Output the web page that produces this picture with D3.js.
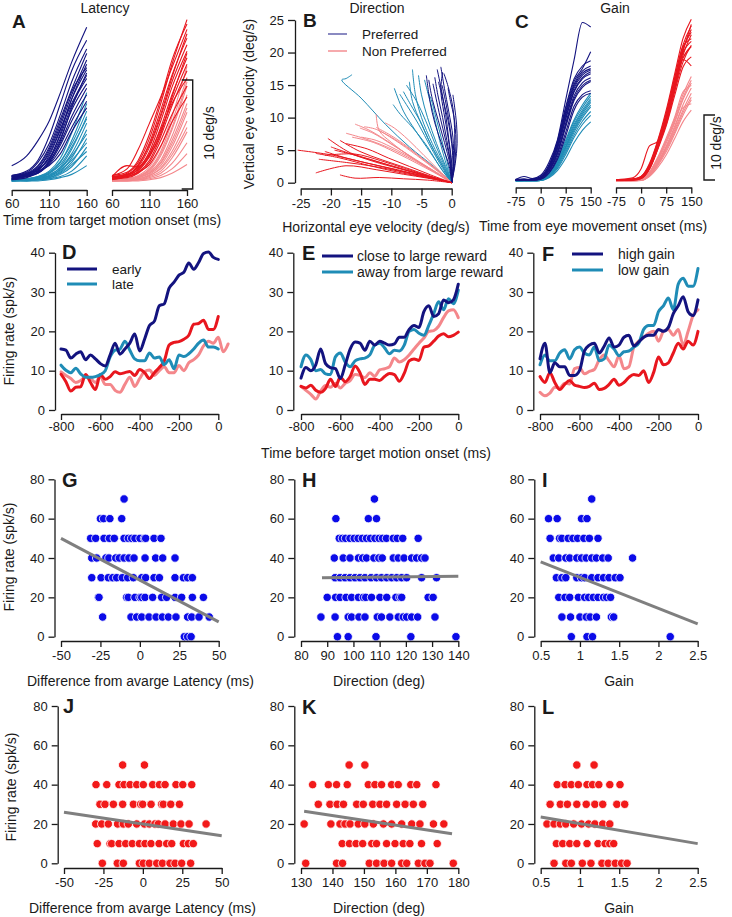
<!DOCTYPE html>
<html><head><meta charset="utf-8">
<script src="https://cdn.jsdelivr.net/npm/d3@7"></script>
<style>body{margin:0;background:#fff;}svg{display:block;}</style>
</head><body><script>
// ---------------- DATA ----------------
// Panel A: eye velocity traces (deg/s) vs time from target motion onset (ms)
const timesA = [60, 80, 95, 110, 125, 140, 160];
const latEarlyPref = [
 [1.5,2.4,3.8,5.6,8.2,11,14.2],[0.6,0.9,1.8,3.5,6.2,9.2,12.2],[0.5,0.8,1.5,3.2,5.8,8.5,11.8],
 [0.4,0.6,1.2,2.8,5.2,8,11.2],[0.5,0.7,1.4,3,5.5,8.3,10.5],[0.3,0.5,1.0,2.4,4.8,7.6,10.3],
 [0.6,0.8,1.3,2.6,4.9,7.2,9.8],[0.4,0.6,1.1,2.2,4.3,7,9.5],[0.3,0.7,1.2,2.1,4.0,6.6,9.0],
 [0.5,0.6,0.9,1.9,3.6,6.0,8.6],[0.2,0.5,0.8,1.7,3.4,5.6,8.0],[0.4,0.5,0.9,1.6,3.0,5.0,7.4],
 [0.5,0.7,1.0,1.5,2.6,4.6,6.8],[0.3,0.6,0.8,1.8,3.8,6.8,10.0],[0.6,1.0,2.0,4.2,7.2,10.2,13.0],
 [0.2,0.4,0.9,2.0,4.5,7.6,10.8]];
const latLatePref = [
 [0.2,0.3,0.5,1.0,2.2,4.5,8.2],[0.1,0.2,0.4,0.8,1.8,3.8,7.2],[0.3,0.3,0.5,0.9,1.9,3.5,6.5],
 [0.2,0.2,0.3,0.6,1.4,3.0,6.0],[0.1,0.2,0.4,0.7,1.3,2.6,5.4],[0.3,0.2,0.3,0.5,1.0,2.2,4.8],
 [0.2,0.1,0.2,0.4,0.9,1.8,4.0],[0.1,0.1,0.2,0.3,0.7,1.4,3.2],[0.2,0.2,0.2,0.3,0.5,1.0,2.4],
 [0.1,0.1,0.1,0.2,0.4,0.7,1.5],[0.2,0.3,0.4,0.8,1.6,3.2,5.8],[0.1,0.2,0.3,0.5,1.2,2.4,4.4],
 [0.3,0.2,0.4,0.6,1.1,2.0,3.6],[0.2,0.2,0.3,0.4,0.8,1.6,2.8]];
const latEarlyNon = [
 [0.4,0.8,1.8,4.0,7.2,10.8,14.9],[0.6,1.2,3.0,5.4,7.8,10.5,14.0],[0.3,0.6,1.5,3.6,6.6,9.8,13.2],
 [0.5,0.7,1.4,3.2,6.0,9.2,12.6],[0.4,0.6,1.2,2.8,5.6,8.7,12.0],[0.3,0.5,1.0,2.5,5.0,8.0,11.4],
 [0.4,0.6,1.1,2.3,4.6,7.5,10.8],[0.2,0.5,0.9,2.0,4.2,7.0,10.2],[0.5,0.7,1.3,2.6,4.8,7.2,9.5],
 [0.3,0.4,0.8,1.8,3.8,6.2,8.8],[0.4,0.5,0.9,1.6,3.3,5.5,7.8],[0.6,0.9,2.0,4.4,7.6,11.2,14.5],
 [0.3,0.6,1.6,3.4,6.2,9.6,13.6],[0.5,1.5,1.4,2.4,4.4,7.8,11.8]];
const latLateNon = [
 [0.2,0.3,0.6,1.4,3.2,6.0,10.6],[0.1,0.2,0.5,1.2,2.8,5.5,9.6],[0.3,0.3,0.5,1.0,2.4,4.8,8.8],
 [0.2,0.2,0.4,0.9,2.0,4.2,8.0],[0.1,0.2,0.4,0.8,1.8,3.8,7.2],[0.2,0.3,0.3,0.7,1.5,3.2,6.4],
 [0.3,0.2,0.3,0.6,1.3,2.8,5.6],[0.1,0.1,0.2,0.5,1.0,2.2,4.6],[0.2,0.2,0.2,0.4,0.8,1.7,3.6],
 [0.1,0.1,0.2,0.3,0.6,1.2,2.6],[0.1,0.1,0.1,0.2,0.4,0.8,1.6],[0.2,0.3,0.5,1.1,2.6,5.0,9.2],
 [0.2,0.2,0.4,0.8,1.7,3.5,6.8],[0.3,0.2,0.3,0.6,1.2,2.5,5.0]];
const ticksA = [60, 110, 160];

// Panel B: [horizontal, vertical] eye velocity trajectories (deg/s)
const dirClosePref = [
 [[0,0],[0.3,3],[0.2,7],[-0.5,11],[-1.2,14.5],[-1.8,17.8]],[[0,0],[-0.2,3],[-0.8,6.5],[-1.5,10],[-2.3,13.5],[-2.8,16.2]],
 [[0,0],[0.2,2.5],[0,6],[-0.6,9.5],[-1.5,13],[-2.2,15.5]],[[0,0],[-0.3,2.8],[-1.2,6.2],[-2.2,9.5],[-3.2,12.8],[-3.8,15.8]],
 [[0,0],[0.5,3],[0.7,6.5],[0.4,10],[-0.2,12.5],[-0.6,14.5]],[[0,0],[-0.1,3.2],[-0.6,7],[-1.3,10.8],[-1.8,14.2],[-1.5,17]],
 [[0,0],[0.3,2.6],[0.1,5.8],[-0.4,9.2],[-1.0,12.4],[-1.6,15]],[[0,0],[-0.4,2.5],[-1.6,5.8],[-2.8,9.2],[-3.6,12.5],[-4.2,16.5]],
 [[0,0],[0.4,3.5],[0.5,7.5],[0.2,11.5],[-0.6,14.8],[-1.3,16.8]],[[0,0],[0,3],[-0.5,6.8],[-1.0,10.5],[-1.6,13.8],[-2.4,17.4]],
 [[0,0],[0.6,3],[0.9,6],[0.8,9],[0.5,11.5],[0.2,13.5]],[[0,0],[-0.2,3],[-1.0,6.5],[-1.9,10],[-2.6,13],[-3.1,15.2]]];
const dirAwayPref = [
 [[0,0],[-1.2,2],[-3,5],[-5,9],[-6.5,12.5],[-7,15.5]],[[0,0],[-1.5,2.2],[-3.5,5.5],[-5.5,9],[-7.5,12],[-8.6,13.6]],
 [[0,0],[-1,2.5],[-2.5,6],[-4,10],[-5,13.5],[-5.5,16.5]],[[0,0],[-1.8,2.2],[-4,5.5],[-6.5,8.5],[-8.5,10.5],[-9.7,12]],
 [[0,0],[-0.8,2.5],[-2,6.5],[-3,10.5],[-4,14],[-4.5,15.8]],[[0,0],[-1.3,2.5],[-3.2,6],[-5,10],[-6,13.5],[-6.5,17.4]],
 [[0,0],[-1.6,2],[-3.8,5],[-6,8],[-8,11],[-9.5,14.5]],[[0,0],[-1,2.2],[-2.6,5.6],[-4.3,9.5],[-5.8,12.5],[-7.5,15]],
 [[0,0],[-0.6,2.6],[-1.6,6.4],[-2.6,10],[-3.4,12.8],[-4.0,14]],[[0,0],[-1.4,2.4],[-3.4,5.8],[-5.2,9.4],[-6.8,12],[-8,14]],
 [[0,0],[-3,2.5],[-7,5.5],[-11,9],[-15,13],[-18.2,15.8],[-17.5,16],[-16.5,16.6]]];
const dirAwayNon = [
 [[0,0],[-2.5,1.5],[-6,3.5],[-10,6],[-13.5,8],[-16,9]],[[0,0],[-2.8,1.6],[-6.5,3.8],[-10,6.2],[-12,8],[-12.5,10.5]],
 [[0,0],[-2.2,1.4],[-5.5,3.2],[-9,5],[-12.5,6.5],[-15,7]],[[0,0],[-2,1.6],[-5,3.8],[-8,6],[-10.5,7.5],[-12.5,8.5]],
 [[0,0],[-2.6,1.5],[-6.2,3.4],[-10.5,5.4],[-14.5,6.8],[-17.5,7.6]],[[0,0],[-1.8,1.5],[-4.5,3.5],[-7.5,5.5],[-10,7],[-12,8]],
 [[0,0],[-2.4,1.8],[-5.8,4.2],[-9.5,6.6],[-12.5,8.2],[-14.5,8.6]],[[0,0],[-2.2,1.2],[-5.4,2.8],[-9.2,4.6],[-13,6.2],[-16.5,7]],
 [[0,0],[-2,1.8],[-4.6,4.2],[-7.2,6.6],[-9.5,8.4],[-11,9.2]],[[0,0],[-2.6,1.6],[-6,3.6],[-9.8,5.8],[-13,7.6],[-15.2,8.4]]];
const dirCloseNon = [
 [[0,0],[-4,1],[-8,2],[-12,3],[-16,4.2],[-20,5.5]],[[0,0],[-4,0.9],[-8.5,1.8],[-13,2.8],[-17.5,3.8],[-21,4.8]],
 [[0,0],[-3.8,1.1],[-7.6,2.3],[-11.5,3.5],[-15.2,4.8],[-18.5,6.5]],[[0,0],[-4.2,0.8],[-8.8,1.6],[-13.5,2.6],[-18.5,3.8],[-22.5,4.5]],
 [[0,0],[-4,0.7],[-8,1.3],[-12.5,2],[-17.5,2.6],[-22.5,1.5]],[[0,0],[-4.5,1],[-9,2],[-14,3],[-19.5,4.2],[-25.5,5]],
 [[0,0],[-3.5,1.2],[-7,2.5],[-10.5,3.8],[-14,5.2],[-17.5,6]],[[0,0],[-4,0.4],[-8,0.6],[-12,0.8],[-16,0.7],[-18.5,1.2]],
 [[0,0],[-4,1],[-8.2,2.1],[-12.6,3.3],[-16.8,4.6],[-20.5,6.8]],[[0,0],[-3.6,0.9],[-7.4,1.9],[-11.4,3],[-15.4,4.1],[-19.4,5]],
 [[0,0],[-4.1,0.8],[-8.4,1.7],[-12.8,2.5],[-17.4,3.1],[-22,3.6]],[[0,0],[-3.9,1.05],[-7.8,2.2],[-11.8,3.4],[-16,4.4],[-21,4.2]]];
const ticksBx = [-25, -20, -15, -10, -5, 0];
const ticksBy = [0, 5, 10, 15, 20, 25];

// Panel C: eye velocity (deg/s) vs time from eye movement onset (ms)
const timesC = [-75, -50, -25, 0, 25, 50, 75, 100, 125, 150];
const gainHighPref = [
 [0.3,0.8,0.5,1.0,3.0,6.4,12.6,18.7,24.5,23.8],[0.2,0.3,0.4,0.8,2.6,6.2,11.5,15.8,17.8,18.6],
 [0.3,0.4,0.3,0.7,2.4,5.8,10.8,15.0,17.0,17.8],[0.2,0.3,0.3,0.6,2.2,5.4,10.2,14.4,16.4,17.2],
 [0.4,0.3,0.4,0.7,2.0,5.0,9.6,13.8,15.8,16.6],[0.2,0.2,0.3,0.5,1.8,4.6,9.0,13.2,15.2,16.0],
 [0.3,0.3,0.2,0.5,1.6,4.2,8.4,12.5,14.5,15.4],[0.2,0.2,0.3,0.6,2.1,5.2,9.8,14.0,16.0,16.9],
 [0.3,0.4,0.3,0.4,1.4,3.8,7.6,11.6,13.4,14.0],[0.2,0.3,0.3,0.5,1.7,4.4,8.7,12.8,14.8,15.6],
 [0.3,0.2,0.4,0.6,2.3,5.6,10.5,14.7,16.7,17.4],[0.2,0.3,0.2,0.4,1.3,3.4,7.0,11.0,13.0,13.6],
 [0.3,0.2,0.3,0.7,2.5,6.0,11.2,15.4,17.4,20.0]];
const gainLowPref = [
 [0.2,0.2,0.3,0.4,1.2,3.4,6.4,9.5,11.8,13.6],[0.1,0.2,0.2,0.3,1.0,3.0,5.8,8.8,11.0,12.8],
 [0.2,0.1,0.2,0.3,0.9,2.7,5.3,8.2,10.4,12.2],[0.1,0.2,0.2,0.2,0.8,2.4,4.8,7.6,9.8,11.5],
 [0.2,0.2,0.1,0.2,0.7,2.0,4.2,6.8,8.8,10.2],[0.1,0.1,0.2,0.3,1.1,3.2,6.1,9.2,11.4,13.2],
 [0.2,0.2,0.2,0.2,0.6,1.7,3.6,6.0,7.9,9.2],[0.1,0.1,0.1,0.2,0.9,2.6,5.1,7.9,10.1,11.8],
 [0.2,0.2,0.2,0.3,1.0,2.9,5.5,8.5,10.7,12.5],[0.1,0.2,0.1,0.2,0.8,2.2,4.5,7.2,9.3,10.8]];
const gainHighNon = [
 [0.2,0.3,0.4,0.8,2.8,6.4,11.0,16.5,22.0,25.0],[0.3,0.2,0.3,0.7,2.5,6.0,10.4,15.8,21.0,24.0],
 [0.2,0.3,0.4,0.6,2.2,5.6,9.8,15.0,20.2,23.4],[0.3,0.3,0.3,0.8,2.6,6.2,10.6,16.0,20.8,22.0],
 [0.2,0.2,0.3,0.5,2.0,5.2,9.0,14.2,19.4,22.6],[0.3,0.3,0.4,0.7,2.4,5.8,10.0,15.2,19.8,21.6],
 [0.2,0.3,0.3,0.6,2.3,5.5,9.5,14.5,19.0,20.8],[0.2,0.2,0.2,0.5,1.9,5.0,8.6,13.2,17.6,19.2],
 [0.3,0.4,0.6,2.0,5.5,6.2,8.8,13.8,18.4,21.0],[0.2,0.3,0.3,0.6,2.1,5.4,9.4,14.6,20.0,24.2],
 [0.3,0.2,0.4,0.7,2.5,5.9,10.2,15.4,20.5,23.0],[0.2,0.3,0.3,0.5,2.0,5.1,9.2,14.0,18.8,17.8]];
const gainLowNon = [
 [0.1,0.2,0.2,0.4,1.4,3.6,6.4,9.6,13.4,16.2],[0.2,0.1,0.2,0.3,1.2,3.2,5.9,9.0,12.6,15.2],
 [0.1,0.2,0.2,0.3,1.1,3.0,5.5,8.5,11.8,14.4],[0.2,0.2,0.1,0.3,1.0,2.8,5.1,7.9,11.0,13.6],
 [0.1,0.1,0.2,0.2,0.9,2.5,4.6,7.3,10.2,12.6],[0.2,0.2,0.2,0.3,1.3,3.4,6.2,9.3,12.9,15.6],
 [0.1,0.2,0.1,0.2,0.8,2.2,4.1,6.6,9.2,11.0],[0.2,0.1,0.2,0.3,1.0,2.9,5.3,8.2,11.4,12.0],
 [0.1,0.2,0.2,0.2,0.9,2.6,4.9,7.6,10.6,13.0],[0.2,0.2,0.2,0.4,1.5,3.8,6.7,9.9,13.8,14.8]];
const ticksC = [-75, 0, 75, 150];

// Panels D-F: firing rate (spk/s) vs time before target motion onset (ms)
const timesFR = [-800,-775,-750,-725,-700,-675,-650,-625,-600,-575,-550,-525,-500,-475,-450,-425,-400,
 -375,-350,-325,-300,-275,-250,-225,-200,-175,-150,-125,-100,-75,-50,-25,0,25,50];
const dEarly = [15.5,15.2,13.2,14.2,14.8,12.8,14,13,11.8,11.2,14,17,14.2,15.5,17,19.3,15,18,21.5,22.6,26.5,27,31,32.5,34.3,35,37.4,35.8,37.5,39.8,40.2,38.8,38.3];
const dLate = [11.4,10.1,9.5,10.6,9.2,8.3,8.3,8.5,9,10,13.5,15.2,15.5,17.5,15.2,13,12.5,12.5,14.5,13.2,13.5,11.5,12.8,10.5,14,13.6,14.3,15.5,17,17.8,16,16,15.5];
const dEarlyNon = [9.1,7.2,4.8,5.8,5.9,9,7,5.2,9,7.8,8.5,9.7,9.2,9.5,9.8,8.8,10.3,9.5,8,9.5,10.8,12.5,16.5,17.2,17.4,18,19,21.8,22,22.8,20.5,20.5,23.8];
const dLateNon = [9.7,8.8,8,7,7.5,8.5,8,7,8.5,6.5,6.5,5,4.5,6.5,8.3,6,8,9.8,10.2,8.8,10,11,9.5,9.5,11.3,10,12,12.8,14,16.3,17.5,17,18.5,14.8,16.8];
const eClose = [8.1,10.8,10,11.5,15.5,11.8,10.8,10.5,8,11.5,15.5,17.3,17,15.2,17.5,16.5,17.5,17,16.5,16.8,18.5,18.5,20.5,21.5,21,25,26.5,23.8,24.5,28,27.3,28,32];
const eAway = [11,14,12.8,10,10.3,9.2,9,13.5,14.5,12.2,11,12.5,13,13.2,14,16.5,17,15.8,14.3,15.2,15,16.5,20,20.5,19.5,19,21.5,24.5,27.5,25.5,28.3,27,30.5];
const eCloseNon = [6,5.6,6.3,5,4.5,5.5,7.8,6,8.3,7.2,8.5,11.2,9.5,6.5,7.8,7.8,7.5,8.5,9.3,9,7.3,9.3,12.5,13,12.6,16,16.3,17.5,18.8,19.4,18.6,19,19.8];
const eAwayNon = [6,5,4,2.8,4.8,6.2,5.8,6.8,5.6,6.8,7.5,9,8.8,8.2,9.5,8.6,10.2,10.5,11,13.2,12.2,12.8,14,15.5,17,18.3,20,20.2,21.3,23.5,25.2,25.5,23.5];
const fHigh = [13,17,9.5,12,11,11,8.8,8.8,10,15,16.5,17,14.5,16.2,18.3,16,16.5,18.5,19,16.3,17.3,18.5,19,19,20.5,20,21,24.5,26.5,28.8,25,24,28];
const fLow = [11.5,14,12.5,12.5,14.5,15.3,13,15.3,16,14.5,14,16,12.5,13,16.5,15.5,13.8,14.8,15,16,17,20.5,21.5,21.5,25,26.5,28.5,25.5,32,33.5,31.5,31.5,36];
const fHighNon = [8.5,7,9.5,7,5.2,6.5,7.5,6.3,6,5.7,6,6.8,5.2,5.5,6.5,7.8,6.3,7,8.3,9,8.8,10,7,9.5,13.5,11.5,12,14.5,17,15.5,17.5,16.5,20];
const fLowNon = [4.5,3.6,4.3,5.8,5.6,6.8,6.6,10.5,10.8,9.2,9.8,10.3,12.8,14,12.5,11,13.8,10.5,11,16,17.5,18.5,19.5,20,17.5,20,20.5,19,20.5,16.5,20,24,25.5];
const ticksFRx = [-800, -600, -400, -200, 0];
const ticksFRy = [0, 10, 20, 30, 40];

// Panels G-L: [firing rate, list of x values]
const latencyPref = [[70,[-10]],[60,[-25,-23,-19,-11.5]],
 [50,[-31.2,-28,-22.7,-19.3,-16.2,-10,-7.3,-5.2,-3.1,0.1,2.9,3.7,9,13.4]],
 [40,[-30.5,-27.4,-21.5,-19.6,-15.3,-13,-10,-6.9,-3.7,3.3,10,14.5,22.3]],
 [30,[-30.5,-24.6,-20,-17.2,-14.7,-11.1,-7.7,-4.1,1.2,3.7,9,12.4,22.3,27.6,30.3,33.3]],
 [20,[-26.3,-25.9,-8.4,-7.3,-3.1,0.1,1.2,3.3,8.1,13.8,17,22.3,26.5,33.3,40.3]],
 [10,[-23.6,-5.6,-2,1.2,5.8,10.3,14.3,18.1,22.9,30.3,32.9,37.5,44]],
 [0,[28.2,30.3,32.5]]];
const directionPref = [[70,[108]],[60,[93.3,105.7,108.8]],
 [50,[94.6,95.8,97,98.7,100.3,101.8,103.4,105,106.5,108.2,109.8,111.1,112.6,115.2,116.7,118.8,124.7]],
 [40,[92.7,96.1,98.7,101.9,103.5,105,107.8,109.7,111,115.2,117.1,119.3,122.2,124.1,126,127.3]],
 [30,[93,94.9,96.8,98.7,100.6,102.5,104.4,106.7,108.8,110.7,112.7,114.6,116.5,118.4,120.3,126,131.7]],
 [20,[90,93.2,94.9,97.2,99.3,101.9,103.8,104.7,106.9,110.1,112.7,116.2,117.7,118.4,128.5,130.4]],
 [10,[87.6,93,98,99.3,102.1,104.4,109.1,110.7,113.9,117.1,119,120.3,122.2,124.5,131.1]],
 [0,[93.9,98,108.6,121.9,139.1]]];
const gainPref = [[70,[1.15]],[60,[0.6,0.71,1.02,1.09]],
 [50,[0.62,0.74,0.77,0.85,0.91,0.97,1.05,1.12,1.23]],
 [40,[0.66,0.73,0.82,0.87,0.96,1.02,1.08,1.15,1.21,1.29,1.36,1.67]],
 [30,[0.70,0.77,0.82,0.96,1.02,1.06,1.15,1.23,1.30,1.37,1.45,1.51]],
 [20,[0.73,0.81,0.87,0.98,1.06,1.11,1.17,1.23,1.3,1.34,1.39]],
 [10,[0.77,0.88,1,1.08,1.13,1.21,1.40,1.43]],
 [0,[0.89,1.09,1.16,2.15]]];
const latencyNon = [[50,[-12.8,1]],
 [40,[-29.7,-22.9,-15.1,-11.9,-8.1,-3.9,0.3,6.2,10.5,14.1,21,25.3,31]],
 [30,[-27.2,-24,-18.7,-12.8,-6,-1.4,-0.1,5.2,11.9,13,17.7,23.2]],
 [20,[-29.9,-26.1,-21.9,-16,-12.4,-9.2,-3.9,1,4.1,7.7,9.8,14.1,19.3,24.2,29.3,40.1]],
 [10,[-28.9,-20.8,-19.8,-15.1,-10.9,-6.7,-2.2,1.4,5.2,10.3,15.1,18.3,25.7,28.9,32]],
 [0,[-25.7,-16.2,-12.4,-2.2,0.3,4.1,8.8,12.4,17.2,20.4,24.6,30.3]]];
const directionNon = [[50,[145.3,150.3]],
 [40,[133.7,138.7,141.3,144.7,151.4,153.5,155.6,158.8,160.9,164.9,166.8,172.9]],
 [30,[135.5,139.2,141.5,143.5,147.7,149.8,152.8,155.1,157.2,160.4,163.1,165.7,168.7]],
 [20,[131,139.5,142.4,144,145.6,148.2,150.3,153,156.2,158.8,162,165.2,167.8,172.1,175.4]],
 [10,[143.1,145.4,147.5,149.6,152.5,154,157.2,159.9,162.5,164.6,168.3,173.3]],
 [0,[131.5,141.3,143.2,151.7,154,156.4,158.8,162,163.6,167.3,169.4,171,178.4]]];
const gainNon = [[50,[0.96,1.18]],
 [40,[0.71,0.81,0.89,0.98,1.09,1.16,1.24,1.38,1.51]],
 [30,[0.62,0.75,0.84,0.96,1.08,1.19,1.29,1.47,1.57]],
 [20,[0.58,0.67,0.75,0.82,0.92,1.02,1.11,1.19,1.29,1.38]],
 [10,[0.70,0.78,0.87,0.96,1.09,1.23,1.32,1.38,1.43]],
 [0,[0.67,0.82,0.89,1.03,1.14,1.28,1.36,1.45,1.53,1.6]]];
// regression lines [[x0,y0],[x1,y1]]
const fitG = [[-50,50],[50,7.5]], fitH = [[88,30],[140,30.7]], fitI = [[0.5,38],[2.5,6.5]];
const fitJ = [[-50,26],[50,14]], fitK = [[131,26.5],[178,15]], fitL = [[0.5,23.5],[2.5,10]];
const ticksSy = [0, 20, 40, 60, 80];
const ticksLat = [-50, -25, 0, 25, 50];
const ticksDirP = [80, 90, 100, 110, 120, 130, 140];
const ticksDirN = [130, 140, 150, 160, 170, 180];
const ticksGain = [0.5, 1, 1.5, 2, 2.5];

// ---------------- DRAWING ----------------
const FONT = '"Liberation Sans", Arial, Helvetica, sans-serif';
const INK = "#1a1a1a";
const NAVY = "#13137f", TEAL = "#1f8cb6", RED = "#e8161e", PINK = "#f4878b";
const SBLUE = "#0b0be8", SRED = "#f21a1a", GRAY = "#7f7f7f";

const svg = d3.select("body").append("svg").attr("width", 732).attr("height", 917)
  .style("font-family", FONT);

function label(x, y, str, o = {}) {
  const t = svg.append("text").text(str)
    .attr("font-size", o.size || 14).attr("font-weight", o.weight || "normal")
    .attr("text-anchor", o.anchor || "start").attr("fill", INK);
  if (o.rotate) t.attr("transform", `translate(${x},${y}) rotate(-90)`);
  else t.attr("x", x).attr("y", y);
  return t;
}
function styleAxis(g) {
  g.attr("font-family", FONT).attr("font-size", 13).attr("color", INK);
  g.selectAll("path,line").attr("stroke-width", 1.3);
}
function axisB(scale, y, ticks, size = 6, pad = 3) {
  const g = svg.append("g").attr("transform", `translate(0,${y})`)
    .call(d3.axisBottom(scale).tickValues(ticks).tickSize(size).tickSizeOuter(0)
      .tickPadding(pad).tickFormat(d => String(d)));
  styleAxis(g);
}
function axisL(scale, x, ticks, size = 6, pad = 4) {
  const g = svg.append("g").attr("transform", `translate(${x},0)`)
    .call(d3.axisLeft(scale).tickValues(ticks).tickSize(size).tickSizeOuter(0)
      .tickPadding(pad).tickFormat(d => String(d)));
  styleAxis(g);
}
function traces(xs, ys, times, list, color, w) {
  const line = d3.line().x((d, i) => xs(times[i])).y(d => ys(d)).curve(d3.curveMonotoneX);
  list.forEach(v => svg.append("path").attr("d", line(v)).attr("fill", "none")
    .attr("stroke", color).attr("stroke-width", w).attr("stroke-linejoin", "round"));
}
function paths2d(xs, ys, list, color, w) {
  const line = d3.line().x(d => xs(d[0])).y(d => ys(d[1])).curve(d3.curveCatmullRom.alpha(0.5));
  list.forEach(v => svg.append("path").attr("d", line(v)).attr("fill", "none")
    .attr("stroke", color).attr("stroke-width", w));
}
function scaleBar(x, yBot, len, dir, txtX, txtY) {
  svg.append("path").attr("d", `M${x + dir * 11},${yBot - len}H${x}V${yBot}H${x + dir * 11}`)
    .attr("fill", "none").attr("stroke", INK).attr("stroke-width", 1.4);
  label(txtX, txtY, "10 deg/s", { size: 14, anchor: "middle", rotate: true });
}

// ---- Row 1 ----
label(105, 13, "Latency", { anchor: "middle" });
label(377, 13, "Direction", { anchor: "middle" });
label(615, 13, "Gain", { anchor: "middle" });
label(12, 28, "A", { size: 19, weight: "bold" });
label(303, 27, "B", { size: 19, weight: "bold" });
label(515, 27.5, "C", { size: 19, weight: "bold" });

// A
const xA1 = d3.scaleLinear().domain([60, 160]).range([11.7, 86.7]);
const xA2 = d3.scaleLinear().domain([60, 160]).range([112, 187]);
const yA = d3.scaleLinear().domain([0, 10]).range([182, 73]);
traces(xA1, yA, timesA, latLatePref, TEAL, 1.1);
traces(xA1, yA, timesA, latEarlyPref, NAVY, 1.1);
traces(xA2, yA, timesA, latLateNon, PINK, 1.1);
traces(xA2, yA, timesA, latEarlyNon, RED, 1.1);
axisB(xA1, 190, ticksA);
axisB(xA2, 190, ticksA);
scaleBar(192.7, 189, yA(0) - yA(10), -1, 214, 133);
label(112, 225, "Time from target motion onset (ms)", { anchor: "middle" });

// B
const xB = d3.scaleLinear().domain([-25, 0]).range([300.7, 451.7]);
const yB = d3.scaleLinear().domain([0, 25]).range([182.7, 20]);
paths2d(xB, yB, dirAwayPref, TEAL, 1);
paths2d(xB, yB, dirClosePref, NAVY, 1);
paths2d(xB, yB, dirAwayNon, PINK, 1);
paths2d(xB, yB, dirCloseNon, RED, 1);
axisB(xB, 188.5, ticksBx, 7, 3);
axisL(yB, 295, ticksBy, 7, 4);
label(254, 104, "Vertical eye velocity (deg/s)", { anchor: "middle", rotate: true });
label(376, 232, "Horizontal eye velocity (deg/s)", { anchor: "middle" });
svg.append("line").attr("x1", 328).attr("x2", 347).attr("y1", 34).attr("y2", 34).attr("stroke", "#4b4ba0").attr("stroke-width", 1.3);
svg.append("line").attr("x1", 328).attr("x2", 347).attr("y1", 51).attr("y2", 51).attr("stroke", "#f27c80").attr("stroke-width", 1.3);
label(362, 39, "Preferred", { size: 13.5 });
label(362, 56, "Non Preferred", { size: 13.5 });

// C
const xC1 = d3.scaleLinear().domain([-75, 150]).range([515.7, 590.7]);
const xC2 = d3.scaleLinear().domain([-75, 150]).range([616, 691.3]);
const yC = d3.scaleLinear().domain([0, 10]).range([181.7, 116.7]);
traces(xC1, yC, timesC, gainLowPref, TEAL, 1.1);
traces(xC1, yC, timesC, gainHighPref, NAVY, 1.1);
traces(xC2, yC, timesC, gainLowNon, PINK, 1.1);
traces(xC2, yC, timesC, gainHighNon, RED, 1.1);
axisB(xC1, 187.5, ticksC);
axisB(xC2, 187.5, ticksC);
scaleBar(704, 180, yC(0) - yC(10), 1, 721, 143);
label(593, 231, "Time from eye movement onset (ms)", { anchor: "middle" });

// ---- Row 2 ----
const yFR = d3.scaleLinear().domain([0, 40]).range([410, 252.7]);
const xD = d3.scaleLinear().domain([-800, 0]).range([61, 218.3]);
const xE = d3.scaleLinear().domain([-800, 0]).range([301, 458.3]);
const xF = d3.scaleLinear().domain([-800, 0]).range([540, 698]);
function frLine(xs, vals, color) {
  const line = d3.line().x((d, i) => xs(timesFR[i])).y(d => yFR(d)).curve(d3.curveMonotoneX);
  svg.append("path").attr("d", line(vals)).attr("fill", "none").attr("stroke", color)
    .attr("stroke-width", 3).attr("stroke-linejoin", "round").attr("stroke-linecap", "round");
}
frLine(xD, dLateNon, PINK); frLine(xD, dEarlyNon, RED); frLine(xD, dLate, TEAL); frLine(xD, dEarly, NAVY);
frLine(xE, eAwayNon, PINK); frLine(xE, eCloseNon, RED); frLine(xE, eAway, TEAL); frLine(xE, eClose, NAVY);
frLine(xF, fLowNon, PINK); frLine(xF, fHighNon, RED); frLine(xF, fLow, TEAL); frLine(xF, fHigh, NAVY);
[[xD, 55], [xE, 293.3], [xF, 533.3]].forEach(([xs, ax]) => {
  axisL(yFR, ax, ticksFRy, 6, 4);
  axisB(xs, 414, ticksFRx, 6, 2);
});
label(62, 259, "D", { size: 20, weight: "bold" });
label(302, 260, "E", { size: 20, weight: "bold" });
label(542, 260.5, "F", { size: 20, weight: "bold" });
function legLine(x1, x2, y, color) {
  svg.append("line").attr("x1", x1).attr("x2", x2).attr("y1", y).attr("y2", y)
    .attr("stroke", color).attr("stroke-width", 3);
}
legLine(67, 97, 269, NAVY); legLine(67, 97, 284, TEAL);
label(112, 273.5, "early", { size: 13.5 }); label(112, 288.5, "late", { size: 13.5 });
legLine(322, 353, 256, NAVY); legLine(322, 353, 272, TEAL);
label(357, 261, "close to large reward"); label(357, 277, "away from large reward");
legLine(572, 603, 254, NAVY); legLine(572, 603, 270, TEAL);
label(618, 259, "high gain"); label(618, 275, "low gain");
label(14, 331, "Firing rate (spk/s)", { anchor: "middle", rotate: true });
label(376, 458, "Time before target motion onset (ms)", { anchor: "middle" });

// ---- Rows 3 & 4: scatter ----
function scatter(xs, ys, rows, fit, color) {
  const pts = rows.flatMap(([r, xsv]) => xsv.map(v => [v, r]));
  svg.append("g").selectAll("circle").data(pts).join("circle")
    .attr("cx", d => xs(d[0])).attr("cy", d => ys(d[1])).attr("r", 4.2)
    .attr("fill", color).attr("stroke", "#fff").attr("stroke-width", 0.8);
  svg.append("line").attr("x1", xs(fit[0][0])).attr("y1", ys(fit[0][1]))
    .attr("x2", xs(fit[1][0])).attr("y2", ys(fit[1][1]))
    .attr("stroke", GRAY).attr("stroke-width", 3);
}
const yS1 = d3.scaleLinear().domain([0, 80]).range([636.7, 479.3]);
const yS2 = d3.scaleLinear().domain([0, 80]).range([863.3, 706]);
const xG = d3.scaleLinear().domain([-50, 50]).range([61, 218.7]);
const xH = d3.scaleLinear().domain([80, 140]).range([301, 458.3]);
const xI = d3.scaleLinear().domain([0.5, 2.5]).range([540.7, 697.7]);
const xJ = d3.scaleLinear().domain([-50, 50]).range([64, 221.7]);
const xK = d3.scaleLinear().domain([130, 180]).range([301, 458.3]);
const xL = d3.scaleLinear().domain([0.5, 2.5]).range([540.7, 697.7]);

scatter(xG, yS1, latencyPref, fitG, SBLUE);
scatter(xH, yS1, directionPref, fitH, SBLUE);
scatter(xI, yS1, gainPref, fitI, SBLUE);
scatter(xJ, yS2, latencyNon, fitJ, SRED);
scatter(xK, yS2, directionNon, fitK, SRED);
scatter(xL, yS2, gainNon, fitL, SRED);

axisL(yS1, 54.5, ticksSy); axisB(xG, 641, ticksLat, 6, 4);
axisL(yS1, 294.3, ticksSy); axisB(xH, 641, ticksDirP, 6, 4);
axisL(yS1, 534.3, ticksSy); axisB(xI, 641, ticksGain, 6, 4);
axisL(yS2, 57.7, ticksSy); axisB(xJ, 868, ticksLat, 6, 4);
axisL(yS2, 294.3, ticksSy); axisB(xK, 868, ticksDirN, 6, 4);
axisL(yS2, 534.3, ticksSy); axisB(xL, 868, ticksGain, 6, 4);

label(62, 486.7, "G", { size: 20, weight: "bold" });
label(302, 486.7, "H", { size: 20, weight: "bold" });
label(542, 486.7, "I", { size: 20, weight: "bold" });
label(63, 713, "J", { size: 20, weight: "bold" });
label(302, 714, "K", { size: 20, weight: "bold" });
label(542, 714, "L", { size: 20, weight: "bold" });

label(14, 557, "Firing rate (spk/s)", { anchor: "middle", rotate: true });
label(16, 787, "Firing rate (spk/s)", { anchor: "middle", rotate: true });
label(27, 686, "Difference from avarge Latency (ms)");
label(29, 913, "Difference from avarge Latency (ms)");
label(379, 686, "Direction (deg)", { anchor: "middle" });
label(379, 913, "Direction (deg)", { anchor: "middle" });
label(619, 686, "Gain", { anchor: "middle" });
label(619, 913, "Gain", { anchor: "middle" });
</script></body></html>
